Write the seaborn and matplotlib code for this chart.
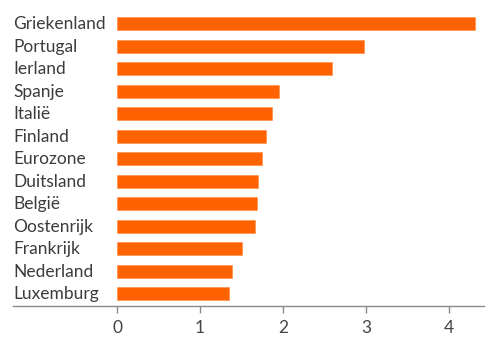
import matplotlib
matplotlib.use("Agg")
import matplotlib.pyplot as plt
import seaborn as sns
import pandas as pd

countries = ["Griekenland", "Portugal", "Ierland", "Spanje", "Italië", "Finland",
             "Eurozone", "Duitsland", "België", "Oostenrijk", "Frankrijk",
             "Nederland", "Luxemburg"]
values = [4.31, 2.97, 2.59, 1.95, 1.87, 1.80, 1.75, 1.70, 1.69, 1.66, 1.51, 1.39, 1.35]
xticks = [0, 1, 2, 3, 4]

df = pd.DataFrame({"country": countries, "value": values})

sns.set_theme(style="white")
plt.rcParams['font.family'] = ['Lato', 'DejaVu Sans']

fig = plt.figure(figsize=(4.97, 3.47), dpi=100)
ax = fig.add_axes([13/497, 41.3/347, (484-13)/497, (305.7-10.2)/347])

sns.barplot(data=df, x="value", y="country", orient="h", color="#FF6200",
            saturation=1, width=0.56, ax=ax, edgecolor="#FF8A40", linewidth=0.4)

xmin, xmax = -1.253, 4.42
ax.set_xlim(xmin, xmax)
ax.set_ylim(12.533, -0.6)

for s in ["top", "right", "left"]:
    ax.spines[s].set_visible(False)
ax.spines["bottom"].set_color("#8a8a8a")
ax.spines["bottom"].set_linewidth(1.0)

ax.set_xticks(xticks)
ax.set_xticklabels([str(t) for t in xticks])
ax.tick_params(axis="x", direction="out", length=5, width=1, color="#8a8a8a",
               labelsize=12.5, labelcolor="#444444", pad=5, bottom=True)
ax.set_yticks([])
ax.set_xlabel("")
ax.set_ylabel("")

for i, c in enumerate(countries):
    ax.text(xmin, i + 0.03, c, ha="left", va="center", fontsize=12.5, color="#3c3c3c")

fig.savefig("out.png", dpi=100)
